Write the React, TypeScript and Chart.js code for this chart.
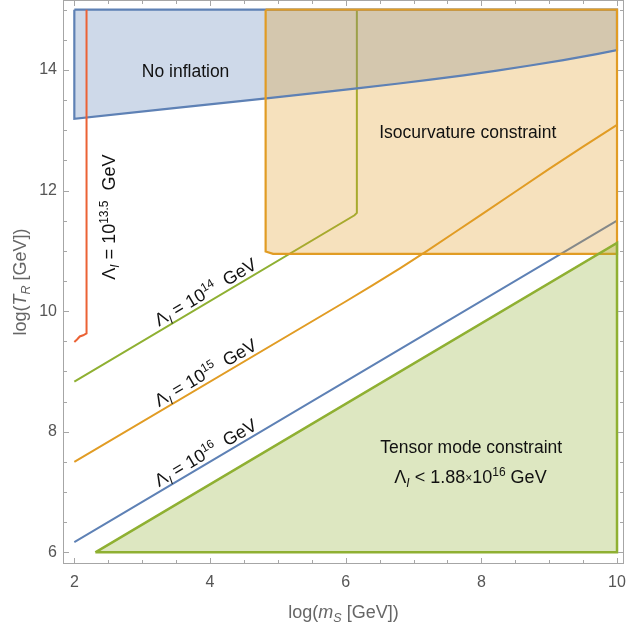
import React, { useEffect, useRef } from 'react';
import { Chart, registerables } from 'chart.js';

Chart.register(...registerables);

// ---- tick labels ----
const xTickValues = [2, 4, 6, 8, 10];
const yTickValues = [6, 8, 10, 12, 14];

// ---- "No inflation" region (lower boundary curve, filled up to y = 15) ----
const noInflX = [2, 3.4, 4.83, 5.77, 6.165, 6.755, 7.25, 7.74, 8.23, 8.72, 9.21, 9.7, 10];
const noInflY = [13.19, 13.36, 13.53, 13.645, 13.695, 13.772, 13.84, 13.912, 13.99, 14.074, 14.165, 14.264, 14.33];
const regionTop = 15;

// ---- Isocurvature region (bottom edge, filled up to y = 15) ----
const isoX = [4.82, 4.93, 10];
const isoY = [10.99, 10.95, 10.95];

// ---- Tensor mode region (hypotenuse, filled down to y = 6) ----
const tensorX = [2.31, 10];
const tensorY = [6, 11.13];
const tensorBottom = 6;

// ---- Lambda_I curves ----
const lam135X = [2.0, 2.04, 2.08, 2.13, 2.18, 2.18];
const lam135Y = [9.49, 9.53, 9.58, 9.6, 9.63, 15];
const lam14X = [2, 6.13, 6.165, 6.165];
const lam14Y = [8.83, 11.59, 11.63, 15];
const lam15X = [2, 6, 6.4, 6.8, 7.2, 7.6, 8, 8.5, 9, 9.5, 10];
const lam15Y = [7.5, 10.16, 10.43, 10.71, 11.0, 11.3, 11.6, 11.98, 12.36, 12.73, 13.09];
const lam16X = [2, 10];
const lam16Y = [6.17, 11.5];

const BLUE = '#5e81b5';
const ORANGE = '#e19c24';
const GREEN = '#8fb032';
const RED = '#eb6235';
const FONT = '"Liberation Sans", Arial, Helvetica, sans-serif';

const pts = (xs: number[], ys: number[]) => xs.map((x, i) => ({ x, y: ys[i] }));

type Seg = { t: string; size?: number; dy?: number; italic?: boolean };

function segFont(s: Seg, base: number) {
  return `${s.italic ? 'italic ' : ''}${s.size ?? base}px ${FONT}`;
}
function richWidth(ctx: CanvasRenderingContext2D, segs: Seg[], base: number) {
  let w = 0;
  for (const s of segs) {
    ctx.font = segFont(s, base);
    w += ctx.measureText(s.t).width;
  }
  return w;
}
function drawRich(ctx: CanvasRenderingContext2D, segs: Seg[], x: number, y: number, base: number) {
  const w = richWidth(ctx, segs, base);
  let cx = x - w / 2;
  ctx.textAlign = 'left';
  ctx.textBaseline = 'alphabetic';
  for (const s of segs) {
    ctx.font = segFont(s, base);
    ctx.fillText(s.t, cx, y + (s.dy ?? 0));
    cx += ctx.measureText(s.t).width;
  }
}

const lamLabel = (exp: string): Seg[] => [
  { t: 'Λ' },
  { t: 'I', size: 12, dy: 4, italic: true },
  { t: ' = 10' },
  { t: exp, size: 12, dy: -7 },
  { t: '  GeV' },
];

function interp(xs: number[], ys: number[], x: number) {
  for (let i = 0; i < xs.length - 1; i++) {
    if (x >= xs[i] && x <= xs[i + 1] && xs[i + 1] !== xs[i]) {
      return ys[i] + ((ys[i + 1] - ys[i]) * (x - xs[i])) / (xs[i + 1] - xs[i]);
    }
  }
  return ys[0];
}

const decorPlugin = {
  id: 'decor',
  afterDatasetsDraw(chart: any) {
    const { ctx, chartArea: a, scales } = chart;
    const xs = scales.x;
    const ys = scales.y;
    ctx.save();
    // frame
    ctx.strokeStyle = '#a6a6a6';
    ctx.lineWidth = 1;
    ctx.strokeRect(a.left + 0.5, a.top + 0.5, a.right - a.left - 1, a.bottom - a.top - 1);
    // ticks (inward)
    ctx.beginPath();
    for (let v = 2; v <= 10.001; v += 0.5) {
      const p = Math.round(xs.getPixelForValue(v)) + 0.5;
      const len = Math.abs(v % 2) < 1e-6 ? 6 : 4;
      ctx.moveTo(p, a.bottom);
      ctx.lineTo(p, a.bottom - len);
      ctx.moveTo(p, a.top);
      ctx.lineTo(p, a.top + len);
    }
    for (let v = 6; v <= 15.001; v += 0.5) {
      const p = Math.round(ys.getPixelForValue(v)) + 0.5;
      const len = Math.abs(v % 2) < 1e-6 ? 6 : 4;
      ctx.moveTo(a.left, p);
      ctx.lineTo(a.left + len, p);
      ctx.moveTo(a.right, p);
      ctx.lineTo(a.right - len, p);
    }
    ctx.stroke();

    // region labels
    ctx.fillStyle = '#111';
    const px = (v: number) => xs.getPixelForValue(v);
    const py = (v: number) => ys.getPixelForValue(v);
    drawRich(ctx, [{ t: 'No inflation' }], px(3.64), py(13.88), 17.5);
    drawRich(ctx, [{ t: 'Isocurvature constraint' }], px(7.8), py(12.88), 17.5);
    drawRich(ctx, [{ t: 'Tensor mode constraint' }], px(7.85), py(7.64), 17.5);
    drawRich(
      ctx,
      [
        { t: 'Λ' },
        { t: 'I', size: 12, dy: 4, italic: true },
        { t: ' < 1.88' },
        { t: '×', size: 12, dy: -1 },
        { t: '10' },
        { t: '16', size: 12, dy: -7 },
        { t: ' GeV' },
      ],
      px(7.84),
      py(7.15),
      18
    );

    // vertical label for 10^13.5
    ctx.save();
    ctx.translate(px(2.6), py(11.56));
    ctx.rotate(-Math.PI / 2);
    drawRich(ctx, lamLabel('13.5'), 0, 0, 18);
    ctx.restore();

    // diagonal labels
    const diag = (xsArr: number[], ysArr: number[], exp: string, cx: number) => {
      const x1 = px(xsArr[0]);
      const y1 = py(ysArr[0]);
      const x2 = px(xsArr[1]);
      const y2 = py(ysArr[1]);
      const ang = Math.atan2(y2 - y1, x2 - x1);
      ctx.save();
      ctx.translate(px(cx), py(interp(xsArr, ysArr, cx)));
      ctx.rotate(ang);
      drawRich(ctx, lamLabel(exp), 0, -4, 18);
      ctx.restore();
    };
    diag(lam14X, lam14Y, '14', 4.01);
    diag(lam15X, lam15Y, '15', 4.01);
    diag(lam16X, lam16Y, '16', 4.01);

    // axis titles
    ctx.fillStyle = '#666';
    drawRich(
      ctx,
      [{ t: 'log(' }, { t: 'm', italic: true }, { t: 'S', size: 12.5, dy: 4, italic: true }, { t: ' [GeV])' }],
      (a.left + a.right) / 2,
      618,
      18
    );
    ctx.save();
    ctx.translate(26, (a.top + a.bottom) / 2);
    ctx.rotate(-Math.PI / 2);
    drawRich(
      ctx,
      [{ t: 'log(' }, { t: 'T', italic: true }, { t: 'R', size: 12.5, dy: 4, italic: true }, { t: ' [GeV])' }],
      0,
      0,
      18
    );
    ctx.restore();
    ctx.restore();
  },
};

export default function App() {
  const ref = useRef<HTMLCanvasElement>(null);
  useEffect(() => {
    if (!ref.current) return;
    const line = (data: any[], color: string, order: number, width = 2, extra: any = {}) => ({
      data,
      showLine: true,
      borderColor: color,
      borderWidth: width,
      pointRadius: 0,
      pointHoverRadius: 0,
      tension: 0,
      fill: false,
      order,
      ...extra,
    });
    const noInflBorder = [
      { x: noInflX[0], y: regionTop },
      ...pts(noInflX, noInflY),
      { x: noInflX[noInflX.length - 1], y: regionTop },
      { x: noInflX[0], y: regionTop },
    ];
    const isoBorder = [
      { x: isoX[0], y: regionTop },
      ...pts(isoX, isoY),
      { x: isoX[isoX.length - 1], y: regionTop },
      { x: isoX[0], y: regionTop },
    ];
    const tensorBorder = [
      ...pts(tensorX, tensorY),
      { x: tensorX[tensorX.length - 1], y: tensorBottom },
      { x: tensorX[0], y: tensorBottom },
    ];
    const chart = new Chart(ref.current, {
      type: 'scatter',
      data: {
        datasets: [
          line(pts(tensorX, tensorY), 'rgba(0,0,0,0)', 1, 0, {
            fill: { value: tensorBottom },
            backgroundColor: 'rgba(143,176,50,0.3)',
          }),
          line(tensorBorder, GREEN, 0, 2.5),
          line(pts(lam135X, lam135Y), RED, 2),
          line(isoBorder, ORANGE, 3, 2.2),
          line(noInflBorder, BLUE, 4, 2.2),
          line(pts(isoX, isoY), 'rgba(0,0,0,0)', 5, 0, {
            fill: { value: regionTop },
            backgroundColor: 'rgba(225,156,36,0.3)',
          }),
          line(pts(noInflX, noInflY), 'rgba(0,0,0,0)', 6, 0, {
            fill: { value: regionTop },
            backgroundColor: 'rgba(94,129,181,0.3)',
          }),
          line(pts(lam15X, lam15Y), ORANGE, 7),
          line(pts(lam16X, lam16Y), BLUE, 8),
          line(pts(lam14X, lam14Y), GREEN, 9),
        ],
      },
      options: {
        responsive: false,
        animation: false,
        devicePixelRatio: 1,
        layout: { padding: { left: 0, right: 2, top: 0, bottom: 0 } },
        plugins: { legend: { display: false }, tooltip: { enabled: false }, title: { display: false } },
        events: [],
        scales: {
          x: {
            type: 'linear',
            min: 1.833,
            max: 10.103,
            grid: { display: false, drawTicks: false },
            border: { display: false },
            ticks: {
              padding: 9,
              color: '#555',
              autoSkip: false,
              maxRotation: 0,
              font: { size: 16, family: FONT },
              callback: (v: any) => String(v),
            },
            afterBuildTicks: (s: any) => {
              s.ticks = xTickValues.map((value) => ({ value }));
            },
            afterFit: (s: any) => {
              s.height = 68;
              s.paddingLeft = 0;
              s.paddingRight = 0;
            },
          },
          y: {
            type: 'linear',
            min: 5.806,
            max: 15.161,
            grid: { display: false, drawTicks: false },
            border: { display: false },
            ticks: {
              padding: 6,
              color: '#555',
              autoSkip: false,
              font: { size: 16, family: FONT },
              callback: (v: any) => String(v),
            },
            afterBuildTicks: (s: any) => {
              s.ticks = yTickValues.map((value) => ({ value }));
            },
            afterFit: (s: any) => {
              s.width = 63;
              s.paddingTop = 0;
              s.paddingBottom = 0;
            },
          },
        },
      } as any,
      plugins: [decorPlugin],
    });
    return () => chart.destroy();
  }, []);
  return (
    <div style={{ position: 'absolute', left: 0, top: 0, width: 626, height: 632, background: '#fff' }}>
      <canvas ref={ref} width={626} height={632} style={{ display: 'block' }} />
    </div>
  );
}
